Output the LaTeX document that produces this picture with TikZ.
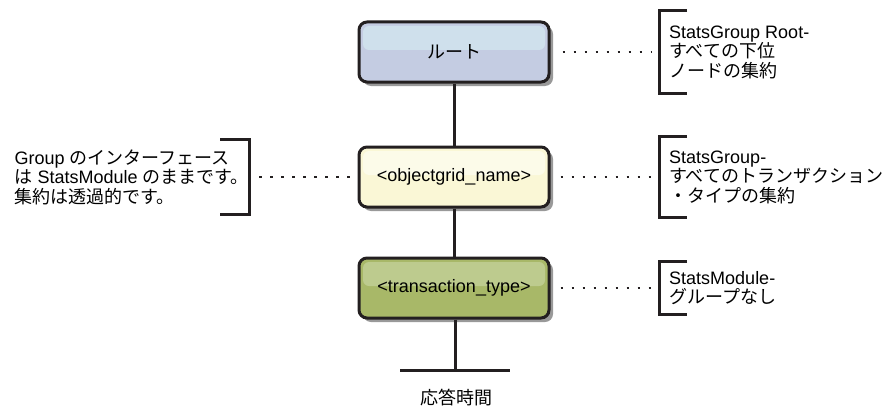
\documentclass[tikz,border=0pt]{standalone}
\usepackage{fontspec}
\setmainfont{Liberation Sans}
\newfontfamily\jp{Noto Sans CJK JP}
\usetikzlibrary{shadows, calc}
\definecolor{rootfill}{RGB}{196,204,226}
\definecolor{roothl}{RGB}{207,224,236}
\definecolor{gridfill}{RGB}{250,247,214}
\definecolor{gridhl}{RGB}{252,251,233}
\definecolor{typefill}{RGB}{168,184,104}
\definecolor{typehl}{RGB}{189,203,142}
\definecolor{edge}{RGB}{35,31,32}

\begin{document}
\begin{tikzpicture}[x=1pt, y=1pt,
    statbox/.style={draw=edge, line width=3pt, rounded corners=8pt,
        minimum width=190pt, minimum height=60pt,
        drop shadow={shadow xshift=4pt, shadow yshift=-4pt, fill=black!40, opacity=1},
        font=\fontsize{18}{19.5}\selectfont},
    glow/.style={path picture={\fill[#1, rounded corners=6pt]
        ([shift={(4pt,-4pt)}]path picture bounding box.north west) rectangle
        ([shift={(-4pt,2pt)}]path picture bounding box.east);}},
    note/.style={align=left, inner ysep=0pt, font=\fontsize{18}{19.5}\selectfont},
    dots/.style={draw=edge, line width=2.6pt, dash pattern=on 2.4pt off 8.6pt},
    bar/.style={draw=edge, line width=3pt}]
                \useasboundingbox (0,0) rectangle (896,408);

                % Boxes
                \node[statbox, fill=rootfill, glow=roothl] (root) at (454,356) {\jp ルート};
                \node[statbox, fill=gridfill, glow=gridhl] (grid) at (454,231) {<objectgrid\_name>};
                \node[statbox, fill=typefill, glow=typehl] (type) at (454,120) {<transaction\_type>};
                \coordinate (tail) at (455,38);
                \node[font=\fontsize{18}{19.5}\selectfont] (resp) at (456,10) {\jp 応答時間};

                % Stem
                \draw[bar] (root) -- (grid);
                \draw[bar] (grid) -- (type);
                \draw[bar] (type.south -| tail) -- (tail);
                \draw[bar] ([xshift=-55pt]tail) -- ([xshift=55pt]tail);

                % Notes on the right
                \node[note, anchor=west, inner xsep=10pt, minimum height=83pt] (rootnote) at (659,356)
                    {StatsGroup Root-\\{\jp すべての下位}\\{\jp ノードの集約}};
                \node[note, anchor=west, inner xsep=10pt, minimum height=80pt] (gridnote) at (659,231)
                    {StatsGroup-\\{\jp すべてのトランザクション}\\{\jp ・タイプの集約}};
                \node[note, anchor=west, inner xsep=10pt, minimum height=53pt] (typenote) at (659,120)
                    {StatsModule-\\{\jp グループなし}};
                \foreach \n in {rootnote, gridnote, typenote}
                    \draw[bar] ([xshift=28pt]\n.north west) -- (\n.north west) -- (\n.south west) -- ([xshift=28pt]\n.south west);

                % Note on the left
                \node[note, anchor=east, inner xsep=0pt, minimum height=74pt] (groupnote) at (249,231)
                    {Group {\jp のインターフェース}\\{\jp は} StatsModule {\jp のままです。}\\{\jp 集約は透過的です。}};
                \draw[bar] ([xshift=-29pt]groupnote.north east) -- (groupnote.north east) -- (groupnote.south east) -- ([xshift=-29pt]groupnote.south east);

                % Dotted leaders
                \draw[dots, shorten <=12pt, shorten >=8pt] (root.east) -- (rootnote.west);
                \draw[dots, shorten <=10pt, shorten >=8pt] (grid.east) -- (gridnote.west);
                \draw[dots, shorten <=10pt, shorten >=8pt] (type.east) -- (typenote.west);
                \draw[dots, shorten <=8pt, shorten >=5pt] (grid.west) -- (groupnote.east);
            \end{tikzpicture}
\end{document}
